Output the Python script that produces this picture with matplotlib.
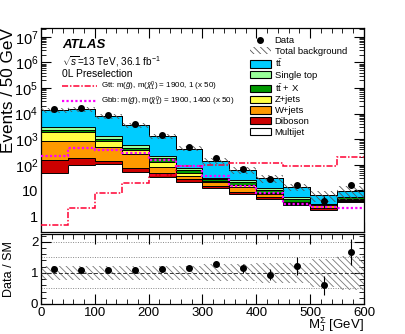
import numpy as np
import matplotlib
matplotlib.use("Agg")
import matplotlib.pyplot as plt
from matplotlib.patches import Patch
from matplotlib.lines import Line2D
from matplotlib.ticker import FixedLocator, MultipleLocator, LogLocator, NullFormatter, FuncFormatter

plt.rcParams['font.family'] = ['Liberation Sans', 'DejaVu Sans']
plt.rcParams['mathtext.fontset'] = 'custom'
plt.rcParams['mathtext.rm'] = 'Liberation Sans'
plt.rcParams['mathtext.it'] = 'Liberation Sans:italic'
plt.rcParams['mathtext.bf'] = 'Liberation Sans:bold'
plt.rcParams['mathtext.sf'] = 'Liberation Sans'
plt.rcParams['hatch.linewidth'] = 0.6

# ---------------- data ----------------
bin_edges = np.arange(0, 650, 50)
multijet = [47, 98, 107, 55, 35, 21, 12.4, 7.6, 4.8, 2.7, 1.8, 3.5]
diboson  = [107, 82, 37, 18, 11.6, 6, 2.5, 1.0, 0.7, 0.2, 0.2, 0.35]
wjets    = [719, 670, 336, 192, 37.4, 11, 5.9, 5.0, 2.1, 0.3, 0.7, 0.35]
zjets    = [1090, 1113, 370, 115, 50, 12, 2.5, 2.7, 0.7, 0.5, 0.15, 0.4]
ttx      = [317, 317, 170, 95, 59, 13, 4.6, 5.0, 2.5, 0.9, 0.1, 0.9]
singletop = [795, 720, 350, 115, 37, 10, 4.0, 4.2, 1.6, 1.2, 0.1, 0.2]
ttbar    = [10725, 11800, 6530, 2980, 1090, 357, 116, 37.5, 17.6, 8.2, 3.55, 3.8]
data     = [15700, 16000, 8600, 3930, 1500, 500, 190, 72, 28, 17, 4, 16]
bkg_rel_unc = [0.22, 0.22, 0.22, 0.22, 0.22, 0.22, 0.27, 0.27, 0.32, 0.32, 0.45, 0.55]
gtt_x50  = [0.47, 2.0, 7.9, 20, 41, 90, 100, 120, 115, 88, 88, 205]
gbb_x50  = [220, 440, 380, 280, 150, 90, 36, 15, 8.1, 3.0, 2.2, 2.0]

components = [
    ("Multijet", multijet, "white"),
    ("Diboson", diboson, "#cc0000"),
    ("W+jets", wjets, "#ff9900"),
    ("Z+jets", zjets, "#ffff44"),
    (r"t$\bar{\mathrm{t}}$ + X", ttx, "#009900"),
    ("Single top", singletop, "#99ff99"),
    (r"t$\bar{\mathrm{t}}$", ttbar, "#00ccff"),
]

HATCH = '\\\\\\\\\\'
W, H = 406, 334
fig = plt.figure(figsize=(W / 100, H / 100), dpi=100)
xl, xr = 41, 364
ax = fig.add_axes([xl / W, 1 - 232 / H, (xr - xl) / W, (232 - 28) / H])
rax = fig.add_axes([xl / W, 1 - 304 / H, (xr - xl) / W, (304 - 234) / H])

edges = np.array(bin_edges, dtype=float)
centers = 0.5 * (edges[:-1] + edges[1:])

# stacked histogram
bottom = np.zeros(len(centers))
for name, vals, col in components:
    vals = np.array(vals, dtype=float)
    top = bottom + vals
    ax.stairs(top, edges, baseline=bottom if bottom.any() else 1e-3, fill=True,
              facecolor=col, edgecolor='none', zorder=2)
    ax.stairs(top, edges, baseline=None, fill=False, edgecolor='black', linewidth=0.7, zorder=3)
    bottom = top
total = bottom
ax.stairs(total, edges, baseline=1e-3, fill=False, edgecolor='black', linewidth=0.7, zorder=3)

# uncertainty band in main panel
rel = np.array(bkg_rel_unc)
ax.stairs(total * (1 + rel), edges, baseline=total * (1 - rel), fill=True, facecolor='none',
          edgecolor='#555555', hatch=HATCH, linewidth=0, zorder=4)

# signals
ax.stairs(np.array(gtt_x50), edges, baseline=None, color='#ff0033', linestyle=(0, (4, 1.2, 1, 1.2)),
          linewidth=1.1, zorder=5)
ax.stairs(np.array(gbb_x50), edges, baseline=None, color='#ff00ff', linestyle=(0, (1, 1)),
          linewidth=1.6, zorder=5)

# data
d = np.array(data, dtype=float)
ax.errorbar(centers, d, yerr=np.sqrt(d), fmt='o', color='black', markersize=4,
            elinewidth=0.8, capsize=0, zorder=6)

ax.set_yscale('log')
ax.set_xlim(0, 600)
ax.set_ylim(0.24, 2.2e7)
ax.yaxis.set_major_locator(LogLocator(base=10, numticks=12))
ax.yaxis.set_minor_locator(LogLocator(base=10, subs=np.arange(2, 10), numticks=12))
ax.yaxis.set_minor_formatter(NullFormatter())

def yfmt(v, pos):
    e = int(round(np.log10(v)))
    if e == 0:
        return "1"
    if e == 1:
        return "10"
    return r"$10^{%d}$" % e
ax.yaxis.set_major_formatter(FuncFormatter(yfmt))
ax.xaxis.set_major_locator(MultipleLocator(100))
ax.xaxis.set_minor_locator(MultipleLocator(20))
ax.tick_params(which='both', direction='in', top=True, right=True, labelbottom=False)
ax.tick_params(which='major', length=7, width=0.8, labelsize=10.5, pad=2)
ax.tick_params(which='minor', length=3.5, width=0.6)
ax.set_ylabel("Events / 50 GeV", fontsize=12.3, loc='top')
ax.yaxis.set_label_coords(-0.078, 1.0)

# texts
ax.text(0.065, 0.917, "ATLAS", transform=ax.transAxes, fontsize=9.5, fontweight='bold',
        fontstyle='italic', va='center')
ax.text(0.065, 0.833, r"$\sqrt{s}$=13 TeV, 36.1 fb$^{-1}$", transform=ax.transAxes,
        fontsize=7.2, va='center')
ax.text(0.065, 0.773, "0L Preselection", transform=ax.transAxes, fontsize=7.4, va='center')

# legends
h_main = [
    Line2D([], [], marker='o', color='black', linestyle='none', markersize=4),
    Patch(facecolor='none', edgecolor='#555555', hatch=HATCH, linewidth=0),
]
l_main = ["Data", "Total background"]
for name, vals, col in reversed(components):
    h_main.append(Patch(facecolor=col, edgecolor='black', linewidth=0.8))
    l_main.append(name)
fig.legend(h_main, l_main, loc='upper left', bbox_to_anchor=(250 / W, 1 - 36 / H),
           frameon=False, fontsize=6.8, handlelength=2.2, handleheight=0.8,
           labelspacing=0.19, handletextpad=0.4, borderpad=0, borderaxespad=0)

h_sig = [Line2D([], [], color='#ff0033', linestyle=(0, (4, 1.2, 1, 1.2)), linewidth=1.1),
         Line2D([], [], color='#ff00ff', linestyle=(0, (1, 1)), linewidth=1.6)]
l_sig = [r"Gtt: m($\tilde{g}$), m($\tilde{\chi}^{0}_{1}$) = 1900, 1 (x 50)",
         r"Gbb: m($\tilde{g}$), m($\tilde{\chi}^{0}_{1}$) = 1900, 1400 (x 50)"]
fig.legend(h_sig, l_sig, loc='upper left', bbox_to_anchor=(62 / W, 1 - 80 / H),
           frameon=False, fontsize=5.8, handlelength=4.3, labelspacing=0.2,
           handletextpad=0.5, borderpad=0, borderaxespad=0)

# ratio panel
ratio = d / total
rerr = np.sqrt(d) / total
rax.stairs(1 + rel, edges, baseline=1 - rel, fill=True, facecolor='none', edgecolor='#777777',
           hatch=HATCH, linewidth=0, zorder=2)
for yv in [0.5, 1.5, 2.0]:
    rax.axhline(yv, color='#888888', linestyle=(0, (1, 1.5)), linewidth=0.7, zorder=1)
rax.axhline(1.0, color='#333333', linestyle=(0, (4, 2)), linewidth=0.7, zorder=3)
rax.errorbar(centers, ratio, yerr=rerr, fmt='o', color='black', markersize=4,
             elinewidth=0.8, capsize=0, zorder=5)
rax.set_xlim(0, 600)
rax.set_ylim(0, 2.25)
rax.yaxis.set_major_locator(FixedLocator([0, 1, 2]))
rax.yaxis.set_minor_locator(MultipleLocator(0.2))
rax.xaxis.set_major_locator(MultipleLocator(100))
rax.xaxis.set_minor_locator(MultipleLocator(20))
rax.tick_params(which='both', direction='in', top=True, right=True)
rax.tick_params(which='major', length=7, width=0.8, labelsize=9.5, pad=2)
rax.tick_params(which='minor', length=3.5, width=0.6)
rax.set_ylabel("Data / SM", fontsize=9)
rax.yaxis.set_label_coords(-0.08, 0.5)
rax.set_xlabel(r"M$_{\mathrm{J}}^{\Sigma}$ [GeV]", fontsize=9.5, loc='right')
rax.xaxis.set_label_coords(1.0, -0.16)
for a in (ax, rax):
    for s in a.spines.values():
        s.set_linewidth(0.9)

fig.savefig("out.png", dpi=100)
